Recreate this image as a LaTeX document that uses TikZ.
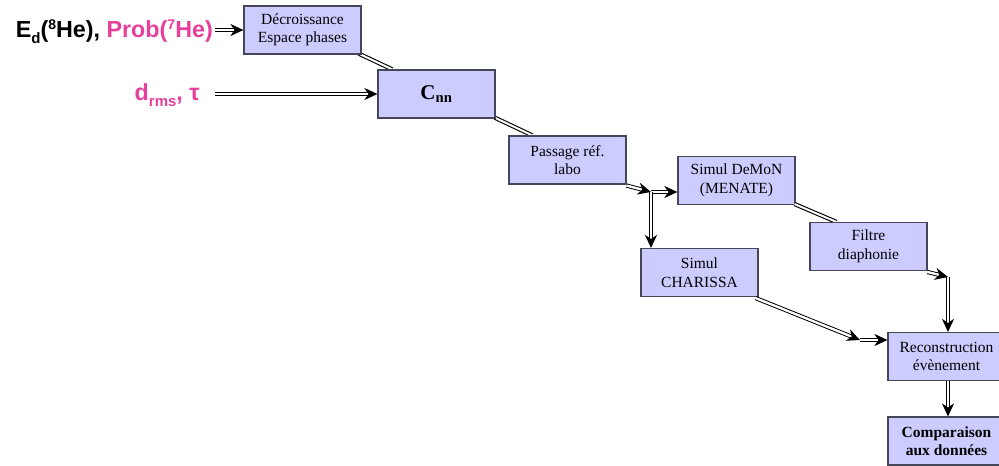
\documentclass[tikz,border=0pt]{standalone}
\usepackage{fontspec}
\setmainfont{Liberation Serif}
\newfontfamily\arialf{Liberation Sans}
\usetikzlibrary{arrows.meta}
\definecolor{boxfill}{RGB}{204,204,255}
\definecolor{boxline}{RGB}{70,70,90}
\definecolor{pinkk}{RGB}{230,64,154}
\newcommand\mysup[1]{\raisebox{0.32em}{\fontsize{14}{14}\selectfont #1}}
\newcommand\mysub[1]{\raisebox{-0.27em}{\fontsize{15}{15}\selectfont #1}}
\tikzset{
  box/.style={draw=boxline, line width=1.1pt, fill=boxfill, minimum width=117pt, minimum height=48pt, inner sep=0pt, align=center, font=\fontsize{15.5}{18.5}\selectfont},
  dbl/.style={draw=black, double=white, double distance=2pt, line width=1.1pt},
  dar/.style={draw=white, line width=2pt, -{Stealth[length=13pt,width=12pt,inset=4pt,color=black]},
    preaction={draw=black, double=white, double distance=2pt, line width=1.1pt, -, shorten >=8pt}},
  lbl/.style={inner sep=0pt, font=\arialf\bfseries\fontsize{23.3}{25}\selectfont}
}
\begin{document}
\begin{tikzpicture}[x=1pt,y=-1pt]
\useasboundingbox (0,0) rectangle (999,466);
\clip (0,0) rectangle (999,466);
% junction coordinates
\coordinate (j1) at (651,192);
\coordinate (j2) at (948,277);
\coordinate (j3) at (860,340);
% boxes
\node[box] (dec) at (302.5,30) {Décroissance\\Espace phases};
\node[box] (cnn) at (436.5,94) {\fontsize{21}{24}\selectfont\bfseries C\textsubscript{nn}};
\node[box] (pass) at (567.5,160) {Passage réf.\\labo};
\node[box] (demon) at (736.5,180.5) {Simul DeMoN\\(MENATE)};
\node[box] (char) at (699.5,272.5) {Simul\\CHARISSA};
\node[box] (filt) at (868.5,246.5) {Filtre\\diaphonie};
\node[box] (reco) at (946.5,356.5) {Reconstruction\\évènement};
\node[box,font=\fontsize{15.5}{18.5}\selectfont\bfseries] (comp) at (946.5,441) {Comparaison\\aux données};
% labels
\node[lbl, anchor=base east] (ed) at (213,37) {E\mysub{d}(\mysup{8}He), \textcolor{pinkk}{Prob(\mysup{7}He)}};
\node[lbl, anchor=base east, text=pinkk] (drms) at (200,100) {d\mysub{rms}, τ};
% connectors
\draw[dbl] ([xshift=-3pt,yshift=1pt]dec.south east) -- ([xshift=15pt]cnn.north west);
\draw[dbl] ([xshift=-1pt,yshift=1pt]cnn.south east) -- ([xshift=24pt]pass.north west);
\draw[dbl] ([xshift=-1pt,yshift=1pt]demon.south east) -- ([xshift=27pt]filt.north west);
\draw[dar] ([yshift=-1pt]pass.south east) -- (j1);
\draw[dar] (j1) -- (demon.west |- j1);
\draw[dar] (j1) -- (char.north -| j1);
\draw[dar] ([yshift=-1pt]filt.south east) -- (j2);
\draw[dar] (j2) -- (reco.north -| j2);
\draw[dar] ([xshift=-3pt,yshift=-1pt]char.south east) -- (j3);
\draw[dar] (j3) -- (reco.west |- j3);
\draw[dar] (reco.south -| j2) -- (comp.north -| j2);
\draw[dar] ([xshift=2pt]ed.east |- dec.west) -- (dec.west);
\draw[dar] ([xshift=15pt]drms.east |- cnn.west) -- (cnn.west);
% boxes drawn again over the diagonal connectors
\node[box] at (dec) {Décroissance\\Espace phases};
\node[box] at (cnn) {\fontsize{21}{24}\selectfont\bfseries C\textsubscript{nn}};
\node[box] at (pass) {Passage réf.\\labo};
\node[box] at (filt) {Filtre\\diaphonie};
\end{tikzpicture}
\end{document}
